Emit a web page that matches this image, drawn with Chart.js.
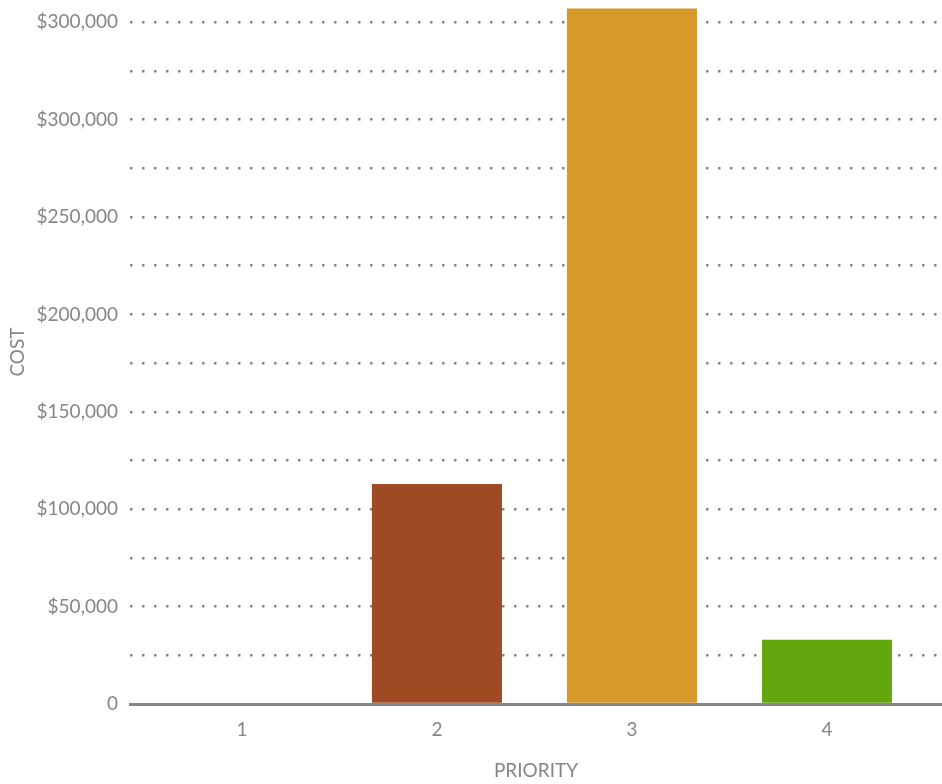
<!DOCTYPE html>
<html>
<head>
<meta charset="utf-8">
<script src="https://cdn.jsdelivr.net/npm/chart.js@4"></script>
<style>
  html, body { margin: 0; padding: 0; background: #fff; }
  #wrap { width: 942px; height: 784px; }
</style>
</head>
<body>
<div id="wrap"><canvas id="costChart"></canvas></div>
<script>
// Coût par priorité
const priorities = [1, 2, 3, 4];
const costs = [0, 113000, 357000, 33000];
const barColors = ["#9e4a22", "#9e4a22", "#d8992b", "#64a60d"];

const yTickValues = [0, 25000, 50000, 75000, 100000, 125000, 150000, 175000,
    200000, 225000, 250000, 275000, 300000, 325000, 350000];
const yTickLabels = ["0", "", "$50,000", "", "$100,000", "", "$150,000", "",
    "$200,000", "", "$250,000", "", "$300,000", "", "$300,000"];

const grey = "#868686";
const font = { family: "Lato, 'Open Sans', sans-serif", size: 19 };

new Chart(document.getElementById("costChart"), {
    type: "bar",
    data: {
        datasets: [{
            label: "Cost",
            data: priorities.map((p, i) => ({ x: p, y: costs[i] })),
            backgroundColor: barColors,
            borderWidth: 0,
            barPercentage: 0.667,
            categoryPercentage: 1,
        }],
    },
    options: {
        responsive: true,
        maintainAspectRatio: false,
        animation: false,
        layout: { padding: 0 },
        plugins: {
            legend: { display: false },
            tooltip: { enabled: false },
        },
        scales: {
            x: {
                type: "linear",
                offset: false,
                min: 0.426,
                max: 4.59,
                afterBuildTicks: (scale) => {
                    scale.ticks = priorities.map((p) => ({ value: p }));
                },
                afterFit: (scale) => {
                    scale.height = 80;
                    scale.paddingLeft = 0;
                    scale.paddingRight = 0;
                },
                grid: { display: false, drawTicks: false },
                border: { display: true, color: grey, width: 3 },
                ticks: {
                    color: grey,
                    font: font,
                    padding: 14,
                    callback: (v) => String(v),
                },
                title: {
                    display: true,
                    text: "PRIORITY",
                    color: grey,
                    font: font,
                    padding: { top: 0, bottom: 2 },
                },
            },
            y: {
                min: 0,
                max: 361400,
                afterBuildTicks: (scale) => {
                    scale.ticks = yTickValues.map((v) => ({ value: v }));
                },
                afterFit: (scale) => {
                    scale.width = 130;
                    scale.paddingTop = 0;
                    scale.paddingBottom = 0;
                },
                grid: {
                    drawTicks: false,
                    lineWidth: 2.5,
                    color: (ctx) => ctx.tick && ctx.tick.value === 0 ? "rgba(0,0,0,0)" : grey,
                },
                border: { display: false, dash: [2.5, 9.5] },
                ticks: {
                    color: grey,
                    font: font,
                    padding: 12,
                    callback: (v) => yTickLabels[yTickValues.indexOf(v)] ?? "",
                },
                title: {
                    display: true,
                    text: "COST",
                    color: grey,
                    font: font,
                    padding: { top: 6, bottom: 0 },
                },
            },
        },
    },
});
</script>
</body>
</html>
